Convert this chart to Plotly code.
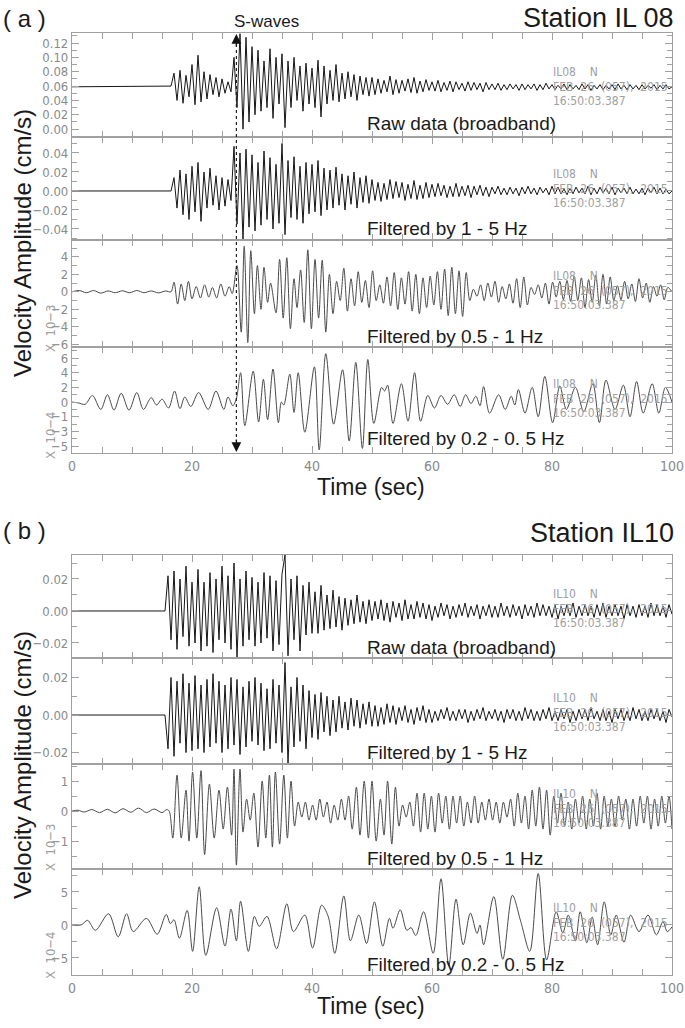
import numpy as np
import plotly.graph_objects as go

W, H = 685, 1028

# ---------------- data ----------------
# high-frequency traces: one value every 0.5 s from the onset, units 1e-3 cm/s
dt = 0.5

il08_onset = 16.5
il08_raw_pre = 59          # level before the onset (x 1e-3 cm/s)
il08_raw = [60, 78, 40, 82, 36, 75, 45, 90, 34, 103, 38,
            80, 42, 76, 48, 72, 45, 70, 50, 66, 52,
            100, 30, 133, 0, 128, 10,
            115, 20, 110, 25, 95, 30, 112, 15, 100, 35, 105, 2,
            95, 30, 100, 40, 88, 25, 92, 35, 85, 30, 96, 17,
            88, 35, 82, 40, 90, 38, 78, 42, 80, 45, 76, 40, 74, 48, 72, 46,
            72, 48, 70, 50, 68, 52, 74, 48, 69, 50, 68, 53, 70, 51, 72, 50, 67, 52, 69, 54,
            66, 53, 68, 52, 65, 54, 67, 52, 66, 55, 64, 53, 66, 54, 65, 55, 64, 52, 65, 55,
            63, 55, 64, 54, 62, 55, 63, 56, 62, 54, 63, 55, 62, 56, 63, 54, 62, 55, 64, 56,
            62, 55, 61, 56, 63, 55, 62, 56, 61, 55, 63, 56, 62, 54, 61, 56, 62, 55, 61, 56,
            62, 55, 63, 56, 61, 55, 62, 56, 61, 55, 62, 56, 61, 57, 62, 55, 61, 56, 62, 56, 59]

il08_bp15 = [0, 14, -18, 22, -25, 18, -30, 26, -22, 30, -32,
             20, -18, 24, -15, 16, -20, 14, -16, 12, -10,
             47, -35, 40, -52, 44, -38,
             38, -42, 30, -36, 42, -30, 35, -40, 28, -34, 50, -46,
             32, -28, 36, -30, 26, -34, 30, -24, 28, -22, 32, -26,
             24, -20, 22, -18, 25, -15, 18, -20, 16, -14, 20, -18, 14, -12, 16, -13,
             12, -10, 9, -11, 8, -9, 12, -8, 10, -7, 9, -10, 7, -8, 11, -9, 6, -8, 9, -7,
             7, -6, 8, -5, 6, -7, 5, -6, 8, -6, 5, -5, 6, -7, 5, -4, 6, -5, 4, -6,
             4, -3, 5, -4, 3, -4, 4, -3, 3, -5, 4, -3, 5, -3, 3, -4, 4, -2, 3, -4,
             5, -3, 4, -3, 2, -4, 3, -3, 4, -2, 3, -3, 5, -4, 3, -3, 4, -2, 3, -3,
             4, -4, 3, -2, 3, -3, 4, -3, 2, -3, 3, -4, 3, -2, 4, -3, 3, -3, 2, -3, 0]

il10_onset = 15.5
il10_raw = [0, 22, -18, 25, -24, 20, -16, 28, -22, 18,
            -20, 26, -25, 18, -22, 24, -26, 20, -18, 28,
            -20, 22, -24, 30, -29, 20, -22, 25, -18, 21,
            -22, 18, -20, 24, -17, 22, -25, 19, -21, 23,
            35, -28, 20, -18, 22, -25, 16, -15, 18, -14,
            12, -14, 16, -12, 10, -11, 13, -10, 9, -12,
            8, -9, 7, -8, 10, -7, 6, -8, 7, -6,
            6, -5, 7, -6, 5, -7, 6, -4, 5, -6, 7, -5, 4, -5, 6, -4, 5, -5, 4, -6,
            3, -4, 5, -3, 4, -5, 3, -4, 4, -3, 5, -4, 3, -3, 4, -5, 3, -3, 4, -4,
            3, -4, 5, -3, 3, -4, 4, -3, 3, -5, 4, -3, 3, -4, 5, -3, 4, -3, 3, -4,
            4, -5, 3, -3, 4, -3, 5, -4, 3, -3, 4, -3, 3, -4, 4, -3, 5, -4, 3, -3,
            4, -3, 3, -5, 4, -3, 3, -4, 4, -3, 3, -4, 5, -3, 4, -3, 3, -4, 4, -2]

il10_bp15 = [0, -18, 20, -22, 18, -15, 22, -20, 17, -19,
             21, -18, 16, -20, 19, -17, 22, -15, 18, -20,
             16, -18, 20, -16, 19, -21, 15, -17, 18, -14,
             20, -16, 17, -19, 14, -18, 19, -15, 16, -20,
             28, -26, 15, -17, 20, -14, 16, -18, 13, -12,
             11, -13, 12, -9, 10, -11, 8, -9, 10, -7,
             7, -8, 9, -6, 8, -7, 6, -5, 7, -6,
             5, -6, 4, -5, 6, -4, 5, -5, 4, -3, 5, -4, 3, -5, 4, -3, 5, -4, 3, -4,
             2, -3, 3, -2, 4, -3, 2, -3, 3, -2, 3, -4, 2, -3, 3, -2, 4, -3, 2, -2,
             3, -3, 2, -4, 3, -2, 3, -3, 2, -3, 4, -2, 3, -3, 2, -3, 3, -2, 4, -3,
             2, -3, 3, -2, 3, -4, 2, -3, 3, -2, 3, -3, 4, -2, 2, -3, 3, -3, 2, -4,
             3, -2, 3, -3, 2, -3, 4, -2, 3, -3, 2, -3, 3, -2, 3, -3, 2, -4, 3, -1]

# band-passed traces: (time s, amplitude) at the wave extremes
il08_bp051 = [(0, 0), (1.2, 0.15), (2.4, -0.1), (3.6, 0.15), (4.8, -0.15), (6.0, 0.1), (7.2, -0.1),
              (8.4, 0.12), (9.6, -0.1), (10.8, 0.15), (12.0, -0.1), (13.2, 0.1), (14.4, -0.12),
              (15.6, 0.1), (16.5, 0), (17.0, 1.1), (17.6, -1.4), (18.2, 0.9), (18.8, -1.0),
              (19.4, 1.2), (20.0, -0.8), (20.7, 0.6), (21.4, -0.7), (22.1, 0.8), (22.8, -0.6),
              (23.4, 0.5), (24.1, -0.7), (24.8, 0.9), (25.5, -0.5), (26.2, 0.6), (26.7, -0.2),
              (27.5, 3.0), (28.2, -4.6), (28.7, 5.2), (29.3, -5.8), (29.8, 4.7), (30.4, -2.5),
              (30.9, 3.0), (31.5, -2.0), (32.0, 2.8), (32.6, -1.2), (33.1, 1.0), (34.0, -2.4),
              (34.6, 3.7), (35.2, -3.0), (35.8, 3.9), (36.4, -4.2), (37.0, 1.5), (37.5, -1.8),
              (38.1, 2.5), (38.7, -3.5), (39.3, 4.8), (39.9, -4.2), (40.5, 3.7), (41.1, -3.0),
              (41.7, 3.6), (42.3, -4.6), (42.9, 2.0), (43.5, -2.5), (44.1, 1.2), (44.7, -1.0),
              (45.3, 2.7), (45.9, -2.2), (46.5, 1.5), (47.1, -1.6), (47.7, 2.3), (48.3, -1.2),
              (48.9, 1.3), (49.5, -1.8), (50.1, 2.4), (50.7, -1.0), (51.3, 0.8), (51.9, -1.3),
              (52.5, 1.7), (53.1, -1.6), (53.7, 2.2), (54.3, -2.0), (54.9, 1.6), (55.5, -1.4),
              (56.1, 2.3), (56.7, -2.2), (57.3, 2.0), (57.9, -2.5), (58.5, 1.6), (59.1, -1.8),
              (59.7, 1.8), (60.3, -1.5), (60.9, 2.3), (61.5, -2.0), (62.1, 2.6), (62.7, -2.7),
              (63.3, 2.8), (63.9, -2.5), (64.5, 2.4), (65.1, -2.8), (65.7, 2.2), (66.3, -1.0),
              (66.9, 0.3), (67.5, -0.5), (68.1, 0.8), (68.7, -1.0), (69.3, 1.0), (69.9, -0.6),
              (70.5, 1.2), (71.1, -1.2), (71.7, 0.6), (72.3, -0.8), (72.9, 0.9), (73.5, -1.3),
              (74.1, 1.5), (74.7, -1.8), (75.3, 1.7), (75.9, -1.5), (76.5, 0.5), (77.1, -0.3),
              (77.7, 0.8), (78.3, -0.7), (78.9, 1.0), (79.5, -1.4), (80.1, 1.1), (80.7, -0.6),
              (81.3, 1.2), (81.9, -0.9), (82.5, 1.3), (83.1, -1.1), (83.7, 1.8), (84.3, -1.0),
              (84.9, 1.6), (85.5, -1.8), (86.1, 1.4), (86.7, -1.2), (87.3, 1.9), (87.9, -1.6),
              (88.5, 2.0), (89.1, -1.4), (89.7, 1.7), (90.3, -1.0), (90.9, 0.7), (91.5, -0.9),
              (92.1, 1.2), (92.7, -0.8), (93.3, 0.9), (93.9, -1.1), (94.5, 1.5), (95.1, -0.7),
              (95.7, 1.0), (96.3, -1.2), (96.9, 0.6), (97.5, -0.5), (98.1, 0.8), (98.7, -0.9),
              (99.3, 0.5), (100, 0)]

il08_bp0205 = [(0, 0.0), (1.0, -0.1), (2.2, -0.3), (3.4, 0.9), (4.8, -1.0), (5.9, 1.0), (7.0, -1.1),
               (8.2, 1.2), (9.5, -1.1), (10.8, 1.3), (11.9, -1.0), (13.2, 0.6), (14.1, -0.4),
               (15.0, 0.4), (16.1, -0.8), (17.1, 1.5), (18.0, -0.9), (18.8, 0.7), (19.8, -0.6),
               (21.1, 1.3), (22.7, -1.0), (24.0, 1.5), (25.3, -1.0), (26.0, 0.7), (26.8, -0.5),
               (27.4, 0.5), (28.1, 4.0), (28.8, -3.2), (30.2, 4.2), (31.1, -2.7), (31.9, 3.1),
               (32.6, -2.4), (33.5, 4.5), (34.4, -2.8), (34.9, 0.0), (35.3, -0.4), (36.3, 3.8),
               (37.0, -1.4), (37.7, 4.0), (38.8, -4.1), (40.4, 4.8), (41.2, -6.5), (42.3, 6.6),
               (43.6, -3.0), (45.1, 4.4), (46.2, -5.3), (47.3, 5.4), (48.4, -6.3), (49.3, 5.8),
               (50.3, -2.9), (51.6, 2.0), (52.1, 1.5), (52.6, 2.3), (53.5, -2.9), (54.9, 2.5),
               (56.0, -2.6), (57.1, 4.0), (58.1, -2.6), (59.3, 0.9), (60.4, -0.8), (61.5, 0.9),
               (62.6, -0.3), (63.7, 1.0), (64.7, -0.6), (65.6, 1.0), (66.5, -0.2), (67.3, 0.8),
               (68.0, -0.5), (68.6, 2.1), (69.6, -1.5), (71.1, 1.0), (72.2, -1.0), (73.2, 0.8),
               (73.8, -0.4), (74.4, 1.7), (75.5, -1.5), (76.7, 2.0), (77.7, -2.0), (78.8, 3.5),
               (80.1, -2.8), (81.3, 2.2), (82.4, -1.0), (83.9, 2.0), (85.3, -1.3), (86.8, 2.5),
               (87.9, -2.8), (89.0, 3.0), (90.5, -1.0), (91.9, 2.3), (93.0, -2.0), (94.1, 2.8),
               (95.2, -1.5), (96.7, 2.5), (97.8, -1.5), (98.9, 2.0), (100.0, 0.0)]

il10_bp051 = [(0, 0), (1, 0.03), (2, -0.03), (3.3, 0.05), (4.6, -0.05), (5.9, 0.06), (7.2, -0.06),
              (8.5, 0.08), (9.8, -0.04), (11.1, 0.1), (12.4, -0.05), (13.7, 0.07), (15.0, -0.05),
              (15.8, 0.05), (16.2, 0.0), (16.8, -0.9), (17.5, 1.2), (18.2, -0.9), (19.0, 0.7),
              (19.5, -1.0), (20.1, 1.3), (20.8, -0.9), (21.5, 1.35), (22.1, -1.45), (22.9, 0.9),
              (23.7, -0.9), (24.5, 0.7), (25.2, -0.6), (25.9, 0.8), (26.6, -0.8), (27.0, 1.4),
              (27.4, -1.8), (28.0, 1.4), (28.5, -0.7), (29.1, 0.4), (29.7, -0.3), (30.3, 0.6),
              (31.0, -1.2), (31.7, 1.0), (32.3, -0.9), (32.9, 1.2), (33.4, -1.2), (33.9, 1.3),
              (34.6, -1.1), (35.3, 1.2), (35.9, -0.9), (36.5, 1.0), (37.1, -0.5), (37.7, 0.3),
              (38.3, -0.2), (38.9, 0.3), (39.5, -0.3), (40.1, 0.2), (40.7, -0.3), (41.3, 0.4),
              (41.9, -0.2), (42.5, 0.3), (43.1, -0.4), (43.7, 0.2), (44.3, -0.3), (44.9, 0.4),
              (45.5, -0.3), (46.1, 0.5), (46.7, -0.6), (47.4, 0.8), (48.0, -0.8), (48.7, 1.0),
              (49.4, -0.9), (50.0, 1.0), (50.7, -1.0), (51.4, 0.4), (52.0, -0.8), (52.6, 1.0),
              (53.3, -1.1), (53.9, 0.8), (54.5, -0.5), (55.1, 0.2), (55.7, -0.2), (56.3, 0.3),
              (56.9, -0.5), (57.5, 0.6), (58.1, -0.7), (58.7, 0.6), (59.3, -0.6), (59.9, 0.5),
              (60.5, -0.7), (61.1, 0.6), (61.7, -0.4), (62.3, 0.5), (62.9, -0.6), (63.5, 0.5),
              (64.1, -0.4), (64.7, 0.5), (65.3, -0.5), (65.9, 0.3), (66.5, -0.4), (67.1, 0.5),
              (67.7, -0.4), (68.3, 0.3), (68.9, -0.3), (69.5, 0.4), (70.1, -0.3), (70.7, 0.3),
              (71.3, -0.4), (71.9, 0.3), (72.5, -0.2), (73.1, 0.4), (73.7, -0.5), (74.3, 0.6),
              (74.9, -0.4), (75.5, 0.5), (76.1, -0.6), (76.7, 0.7), (77.3, -0.5), (77.9, 0.8),
              (78.5, -0.6), (79.1, 0.7), (79.7, -0.8), (80.3, 0.5), (80.9, -0.4), (81.5, 0.6),
              (82.1, -0.5), (82.7, 0.3), (83.3, -0.6), (83.9, 0.4), (84.5, -0.4), (85.1, 0.5),
              (85.7, -0.6), (86.3, 0.4), (86.9, -0.5), (87.5, 0.6), (88.1, -0.6), (88.7, 0.5),
              (89.3, -0.5), (89.9, 0.4), (90.5, -0.5), (91.1, 0.5), (91.7, -0.3), (92.3, 0.4),
              (92.9, -0.6), (93.5, 0.4), (94.1, -0.5), (94.7, 0.5), (95.3, -0.4), (95.9, 0.5),
              (96.5, -0.6), (97.1, 0.4), (97.7, -0.5), (98.3, 0.5), (98.9, -0.4), (99.5, 0.5),
              (100, -0.6)]

il10_bp0205 = [(0, 0.0), (1.5, 0.0), (2.6, 0.7), (3.9, -0.8), (6.1, 1.7), (7.7, -1.8), (9.1, 1.7),
               (10.2, -1.0), (12.4, 1.0), (14.2, -1.4), (15.7, 1.6), (16.4, 0.2), (17.0, 0.8),
               (17.9, -2.0), (19.2, 2.2), (20.1, -4.0), (21.2, 5.8), (22.3, -4.6), (24.1, 2.6),
               (25.5, -3.2), (26.5, 2.4), (27.4, -2.4), (28.1, 3.6), (29.4, -4.0), (30.4, 1.3),
               (31.2, -0.2), (32.5, 1.3), (34.1, -3.6), (35.8, 3.2), (36.9, -1.0), (38.8, 1.5),
               (40.1, -3.5), (41.6, 3.0), (42.7, 1.3), (43.8, -4.3), (45.3, 4.4), (46.4, -2.4),
               (47.8, 1.5), (49.1, -2.8), (50.4, 3.5), (51.8, -3.2), (52.9, 1.0), (53.5, -0.5),
               (54.7, 2.3), (55.8, -0.8), (56.5, -0.4), (57.3, -1.6), (58.6, 2.0), (60.2, -4.3),
               (61.5, 7.0), (62.8, -6.2), (64.0, 3.9), (65.2, -3.0), (66.4, 1.8), (67.5, -1.3),
               (68.0, 0.0), (68.6, -3.0), (70.3, 4.3), (71.8, -5.2), (73.4, 4.5), (74.8, 0.5),
               (76.3, -4.0), (77.7, 7.8), (79.1, -5.3), (80.7, 2.0), (81.8, -1.2), (82.7, 1.5),
               (83.9, -2.4), (84.7, 2.0), (85.8, -2.7), (86.7, 1.2), (87.6, -3.0), (88.7, 3.5),
               (89.8, -1.5), (90.7, 1.5), (92.0, -2.6), (93.1, 1.5), (94.5, -1.0), (96.0, 1.5),
               (97.4, -1.5), (98.5, 0.5), (99.2, -1.0), (100, -0.3)]

band_labels = ["Raw data (broadband)", "Filtered by 1 - 5 Hz",
               "Filtered by 0.5 - 1 Hz", "Filtered by 0.2 - 0. 5 Hz"]
stations = ["IL08", "IL10"]
stamp = "FEB&nbsp;&nbsp;26&nbsp;&nbsp;(057),&nbsp;&nbsp;2015"
stamp_time = "16:50:03.387"
s_wave_time = 27.4

# ---------------- layout helpers ----------------
def pxx(x):
    return x / W

def pxy(y):
    return 1 - y / H

X0, X1 = 72, 672
# pixel rows of the 8 panels (top, bottom)
rows = [(33, 137), (137, 240), (240, 347), (347, 453),
        (555, 658), (658, 764), (764, 869), (869, 975)]
yranges = [(-0.011, 0.134), (-0.0516, 0.0568), (-6.3, 5.92), (-6.93, 7.5),
           (-0.0294, 0.035), (-0.0261, 0.0304), (-1.93, 1.57), (-7.58, 8.48)]
ytick_sets = [
    (np.round(np.arange(0, 0.121, 0.02), 2), None, 0.01),
    ([-0.04, -0.02, 0, 0.02, 0.04], None, 0.01),
    ([-6, -4, -2, 0, 2, 4], None, 1),
    ([6, 4, 2, 0, -2, -4, -6], ["6", "4", "2", "0", "\u22121", "\u22123", "\u22125"], 1),
    ([-0.02, 0, 0.02], None, 0.01),
    ([-0.02, 0, 0.02], None, 0.01),
    ([-1, 0, 1], None, 0.5),
    ([-5, 0, 5], None, 2.5),
]
ytickfmt = [".2f", ".2f", "", "", ".2f", ".2f", "", ""]

GRAY = "#a0a0a0"
NARROW = "DejaVu Sans Condensed, Liberation Sans Narrow, Liberation Sans"
TICKFONT = dict(family=NARROW, size=13, color="#8a8a8a")
TEXTFONT = "Liberation Sans, Arial, sans-serif"

fig = go.Figure()

def ms(v):
    return [a * 1e-3 for a in v]

def grid(onset, vals, pre):
    t = [0.0] + list(onset + dt * np.arange(len(vals)))
    return t, [pre] + list(vals)

series = []
t, v = grid(il08_onset, il08_raw, il08_raw_pre)
series.append((t, ms(v), "linear"))
t, v = grid(il08_onset, il08_bp15, 0)
series.append((t, ms(v), "linear"))
series.append(([p[0] for p in il08_bp051], [p[1] for p in il08_bp051], "spline"))
series.append(([p[0] for p in il08_bp0205], [p[1] for p in il08_bp0205], "spline"))
t, v = grid(il10_onset, il10_raw, 0)
series.append((t, ms(v), "linear"))
t, v = grid(il10_onset, il10_bp15, 0)
series.append((t, ms(v), "linear"))
series.append(([p[0] for p in il10_bp051], [p[1] for p in il10_bp051], "spline"))
series.append(([p[0] for p in il10_bp0205], [p[1] for p in il10_bp0205], "spline"))

layout = dict()
for i, (t, v, shape) in enumerate(series):
    n = i + 1
    xa = "x" if n == 1 else "x%d" % n
    ya = "y" if n == 1 else "y%d" % n
    fig.add_trace(go.Scatter(
        x=t, y=v, mode="lines", xaxis=xa, yaxis=ya, showlegend=False,
        line=dict(color="#161616" if shape == "linear" else "#4a4a4a",
                  width=1.0,
                  shape=shape, smoothing=0.9 if shape == "spline" else None),
        hoverinfo="skip"))

    top, bot = rows[i]
    last = n in (4, 8)
    layout["xaxis" if n == 1 else "xaxis%d" % n] = dict(
        domain=[pxx(X0), pxx(X1)], anchor=ya, range=[0, 100], automargin=False,
        showline=True, linecolor=GRAY, linewidth=1.2, mirror="ticks",
        ticks="inside", ticklen=7, tickcolor=GRAY, tickwidth=1,
        tickvals=[0, 20, 40, 60, 80, 100], showticklabels=last,
        tickfont=dict(TICKFONT, size=14), showgrid=False, zeroline=False,
        minor=dict(dtick=5, ticks="inside", ticklen=6, tickcolor=GRAY))
    tv, tt, mdt = ytick_sets[i]
    yax = dict(
        domain=[pxy(bot), pxy(top)], anchor=xa, range=list(yranges[i]), automargin=False,
        showline=True, linecolor=GRAY, linewidth=1.2, mirror="ticks",
        ticks="inside", ticklen=7, tickcolor=GRAY, tickwidth=1,
        tickvals=list(tv), tickfont=TICKFONT, showgrid=False, zeroline=False,
        minor=dict(dtick=mdt, tick0=0, ticks="inside", ticklen=5, tickcolor=GRAY))
    if tt:
        yax["ticktext"] = tt
    if ytickfmt[i]:
        yax["tickformat"] = ytickfmt[i]
    layout["yaxis" if n == 1 else "yaxis%d" % n] = yax

fig.update_layout(**layout)

ann = []
shapes = []

def text(x, y, s, size, color="#1a1a1a", xanchor="center", family=TEXTFONT, angle=0):
    ann.append(dict(x=pxx(x), y=pxy(y), xref="paper", yref="paper", text=s,
                    showarrow=False, xanchor=xanchor, yanchor="middle", textangle=angle,
                    font=dict(family=family, size=size, color=color)))

# panel titles
text(25, 18, "( a )", 24)
text(25, 530, "( b )", 24)
text(676, 18, "Station IL 08", 27, xanchor="right")
text(676, 533, "Station IL10", 27, xanchor="right")

# band labels, station stamps, baselines in pixels
label_y = [123, 229, 337, 438, 647, 752, 858, 964]
base_y = [89, 191, 293, 401, 611, 715, 811, 925]
for i in range(8):
    text(365, label_y[i], band_labels[i % 4], 19, xanchor="left")
    st = stations[i // 4]
    b = base_y[i]
    text(551, b - 17, st + "&nbsp;&nbsp;&nbsp;&nbsp;N", 12, color=GRAY, xanchor="left", family=NARROW)
    text(551, b - 2, stamp, 12, color=GRAY, xanchor="left", family=NARROW)
    text(551, b + 12, stamp_time, 12, color=GRAY, xanchor="left", family=NARROW)

# multiplier labels
for y, s in [(328, "X  10\u22123"), (435, "X  10\u22124"), (847, "X  10\u22123"), (955, "X  10\u22124")]:
    text(50, y, s, 13, color=GRAY, family=NARROW, angle=-90)

# axis titles
text(22, 243, "Velocity Amplitude (cm/s)", 24, angle=-90)
text(22, 765, "Velocity Amplitude (cm/s)", 24, angle=-90)
text(371, 487, "Time (sec)", 23)
text(371, 1006, "Time (sec)", 23)

# S-wave marker
text(232, 21, "S-waves", 17, xanchor="left")
shapes.append(dict(type="line", xref="x", yref="paper", x0=s_wave_time, x1=s_wave_time,
                   y0=pxy(44), y1=pxy(441), line=dict(color="#222", width=1.2, dash="dot")))
ann.append(dict(x=s_wave_time, y=pxy(34), xref="x", yref="paper", ax=0, ay=14, text="",
                showarrow=True, arrowhead=2, arrowsize=1.5, arrowwidth=1.3, arrowcolor="#111"))
ann.append(dict(x=s_wave_time, y=pxy(452), xref="x", yref="paper", ax=0, ay=-14, text="",
                showarrow=True, arrowhead=2, arrowsize=1.5, arrowwidth=1.3, arrowcolor="#111"))

fig.update_layout(annotations=ann, shapes=shapes, width=W, height=H, autosize=False,
                  margin=dict(l=0, r=0, t=0, b=0), plot_bgcolor="white", paper_bgcolor="white")

# the page's default body margin would shift the figure; remove it
fig.write_html("out.html", config={"displayModeBar": False},
               post_script="document.body.style.margin='0';")
